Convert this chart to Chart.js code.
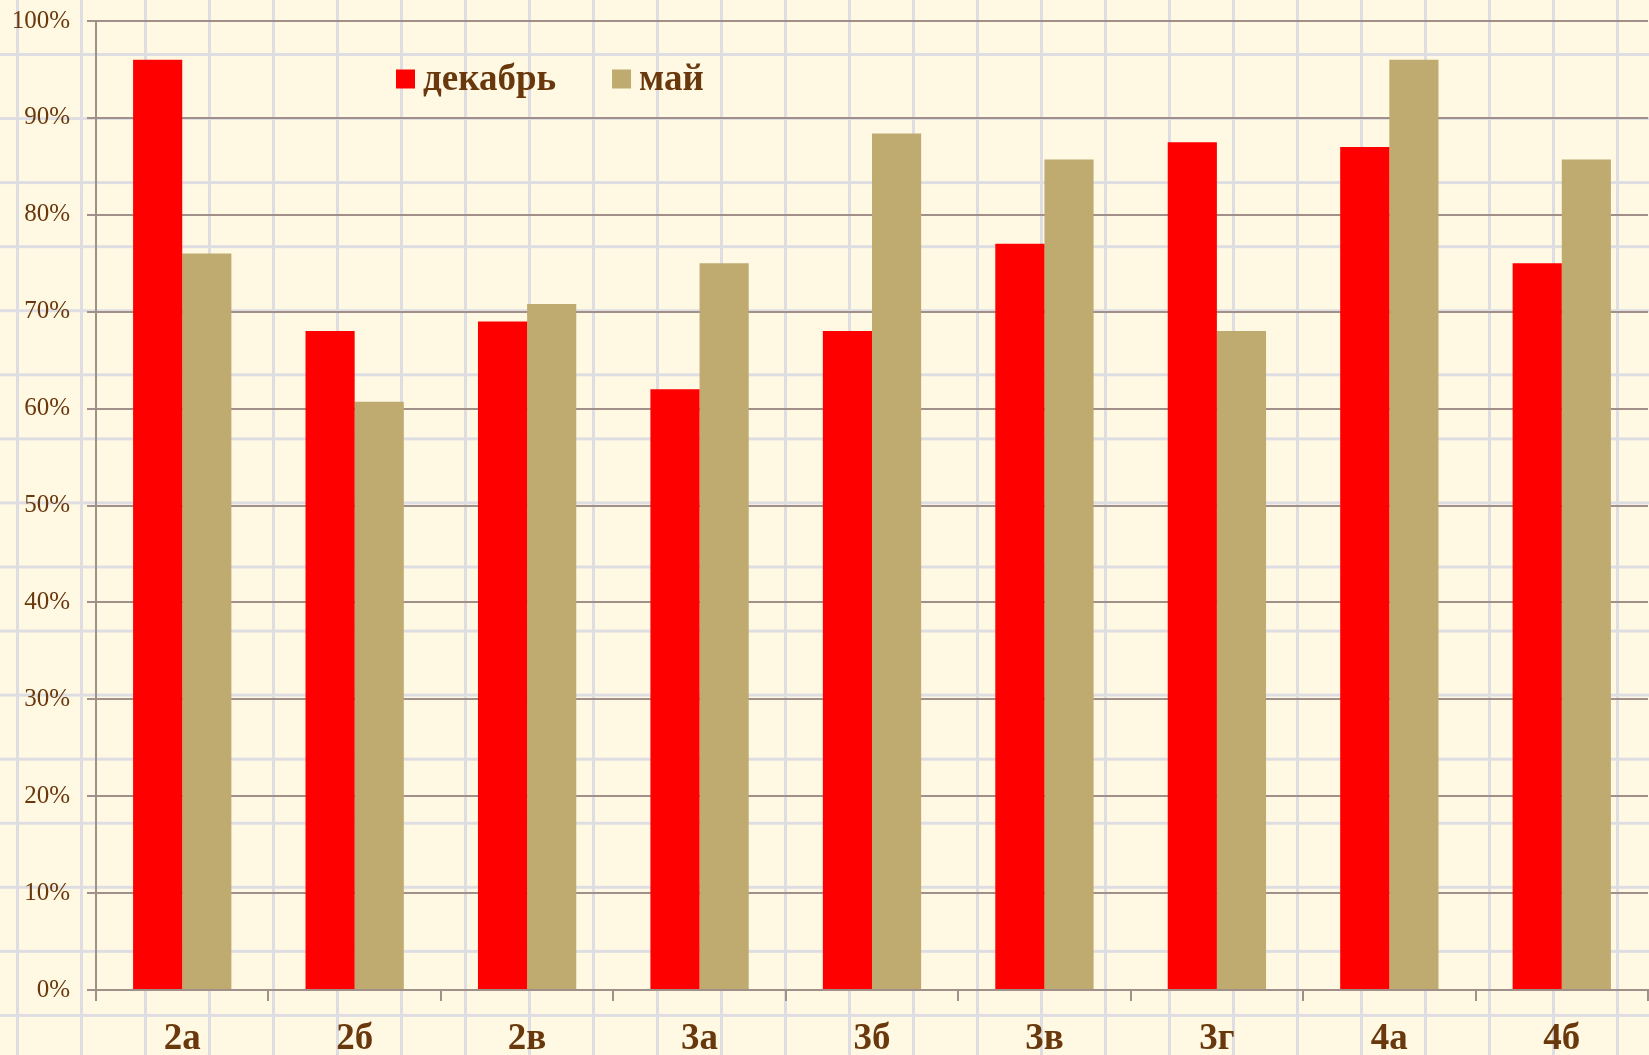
<!DOCTYPE html>
<html>
<head>
<meta charset="utf-8">
<script src="https://cdn.jsdelivr.net/npm/chart.js@4"></script>
<style>
html,body{margin:0;padding:0;}
body{
  width:1649px;height:1055px;overflow:hidden;
  background-color:#FFF8E3;
  background-image:
    linear-gradient(to right, #DEDEE2 0px, #DEDEE2 3px, transparent 3px),
    linear-gradient(to bottom, #DEDEE2 0px, #DEDEE2 3px, transparent 3px);
  background-size:64px 64.07px;
  background-position:16px 53px;
}
#wrap{position:absolute;left:0;top:0;width:1649px;height:1055px;}
</style>
</head>
<body>
<div id="wrap"><canvas id="c"></canvas></div>
<script>
const categories = ['2а','2б','2в','3а','3б','3в','3г','4а','4б'];
const december = [96, 68, 69, 62, 68, 77, 87.5, 87, 75];
const may = [76, 60.7, 70.8, 75, 88.4, 85.7, 68, 96, 85.7];
const seriesNames = ['декабрь','май'];
const yTicks = [0,10,20,30,40,50,60,70,80,90,100];

const textColor = '#69380D';
const gridColor = '#A09089';

const legendPlugin = {
  id: 'customLegend',
  afterDraw(chart){
    const ctx = chart.ctx;
    ctx.save();
    ctx.font = 'bold 37px "Liberation Serif", "Times New Roman", serif';
    ctx.textBaseline = 'middle';
    let x = 396;
    const yc = 79, box = 19;
    chart.data.datasets.forEach((ds) => {
      ctx.fillStyle = ds.backgroundColor;
      ctx.fillRect(x, yc - box/2, box, box);
      ctx.fillStyle = textColor;
      ctx.fillText(ds.label, x + box + 8, yc + 1);
      x += box + 8 + ctx.measureText(ds.label).width + 56;
    });
    ctx.restore();
  }
};

new Chart(document.getElementById('c'), {
  type: 'bar',
  data: {
    labels: categories,
    datasets: [
      {label: seriesNames[0], data: december, backgroundColor: '#FF0000', borderWidth: 0},
      {label: seriesNames[1], data: may, backgroundColor: '#BFAA70', borderWidth: 0}
    ]
  },
  options: {
    responsive: true,
    maintainAspectRatio: false,
    animation: false,
    layout: {padding: {top: 21, right: 1, left: 0, bottom: 0}},
    plugins: {legend: {display: false}, tooltip: {enabled: false}},
    datasets: {bar: {barPercentage: 1, categoryPercentage: 0.57}},
    scales: {
      x: {
        grid: {drawOnChartArea: false, color: gridColor, lineWidth: 2, tickLength: 11, offset: true},
        border: {color: gridColor, width: 2},
        ticks: {color: textColor, font: {family: '"Liberation Serif", "Times New Roman", serif', size: 37, weight: 'bold'}, padding: 16, maxRotation: 0},
        afterFit(s){ s.height = 65; s.paddingLeft = 0; s.paddingRight = 0; }
      },
      y: {
        min: 0, max: 100,
        afterBuildTicks(s){ s.ticks = yTicks.map(v => ({value: v})); },
        grid: {color: gridColor, lineWidth: 2, tickLength: 9},
        border: {color: gridColor, width: 2},
        ticks: {color: textColor, font: {family: '"Liberation Serif", "Times New Roman", serif', size: 25}, padding: 17,
          callback: v => v + '%'},
        afterFit(s){ s.width = 96; s.paddingTop = 0; s.paddingBottom = 0; }
      }
    }
  },
  plugins: [legendPlugin]
});
</script>
</body>
</html>
